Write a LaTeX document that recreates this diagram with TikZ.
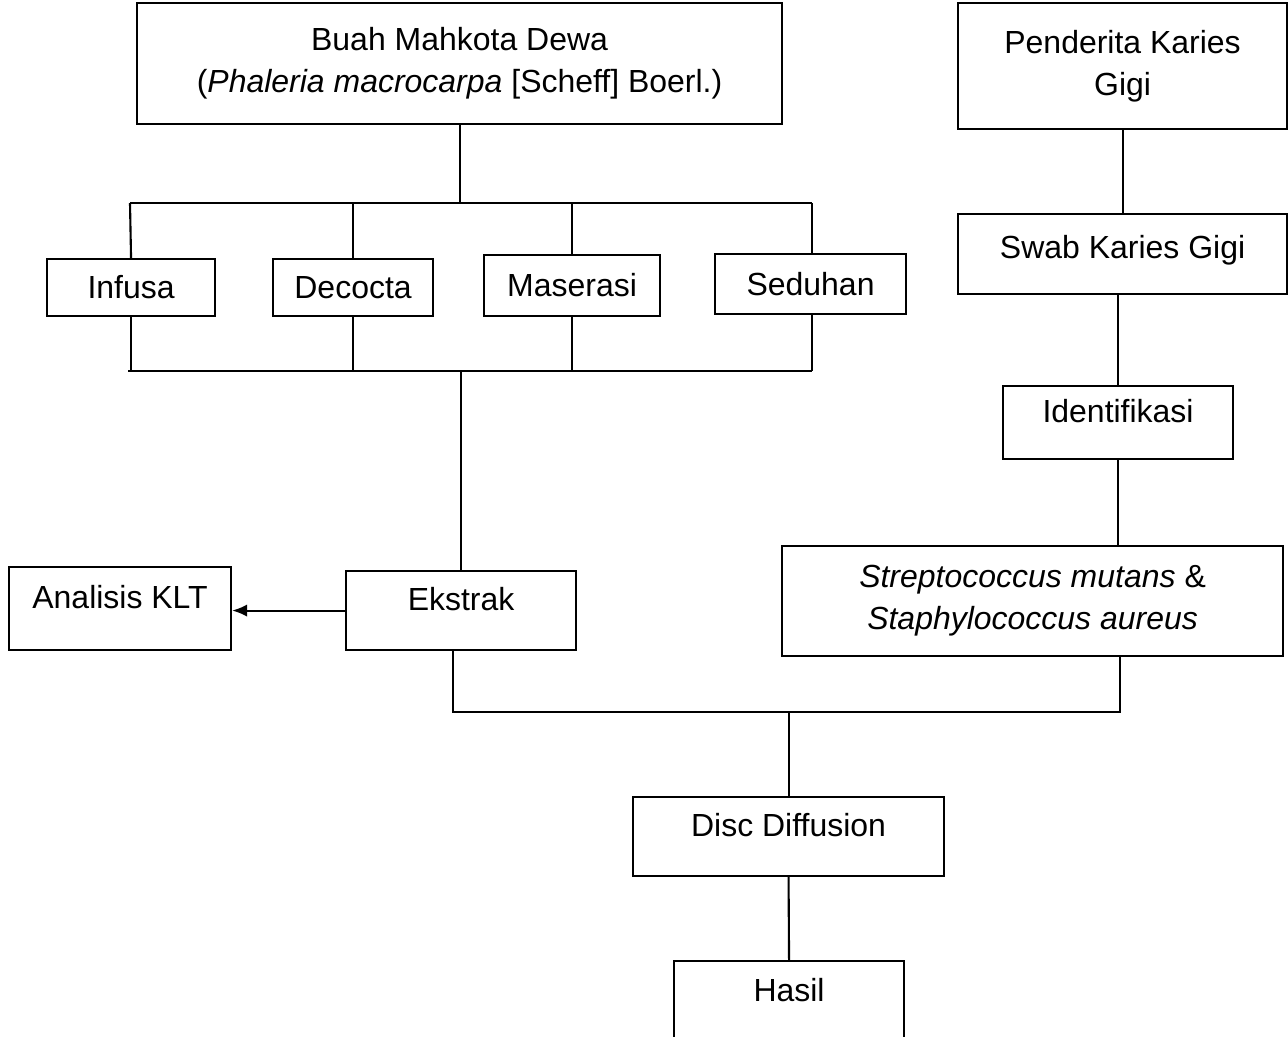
\documentclass[tikz,border=0pt]{standalone}
\usepackage{fontspec}
\setmainfont{Liberation Sans}
\usetikzlibrary{arrows.meta}
\begin{document}
\begin{tikzpicture}[
    x=0.02cm, y=-0.02cm,
    line width=1.2pt,
    every node/.style={
        font=\fontsize{18.2pt}{23.9pt}\selectfont
    },
    box/.style 2 args={
        draw,
        anchor=north west,
        inner sep=0pt,
        align=center,
        minimum width=#1*0.02cm,
        minimum height=#2*0.02cm
    },
    raised/.style={
        text height=13pt,
        text depth=13pt
    }
    ]
    \useasboundingbox (0,0) rectangle (1288,1037);
    \clip (0,0) rectangle (1288,1037);
    \node[box={645}{121}] at (136,2)
        (buah) {Buah Mahkota Dewa\\(\textit{Phaleria macrocarpa} [Scheff] Boerl.)};
    \node[box={329}{126}] at (957,2)
        (penderita) {Penderita Karies\\Gigi};
    \node[box={168}{57}] at (46,258)
        (infusa) {Infusa};
    \node[box={160}{57}] at (272,258)
        (decocta) {Decocta};
    \node[box={176}{61}] at (483,254)
        (maserasi) {Maserasi};
    \node[box={191}{60}] at (714,253)
        (seduhan) {Seduhan};
    \node[box={329}{80},text height=13pt,text depth=8pt] at (957,213)
        (swab) {Swab Karies Gigi};
    \node[box={230}{73},raised] at (1002,385)
        (identifikasi) {Identifikasi};
    \node[box={501}{110}] at (781,545)
        (strep) {\textit{Streptococcus mutans} \&\\\textit{Staphylococcus aureus}};
    \node[box={230}{79},raised] at (345,570)
        (ekstrak) {Ekstrak};
    \node[box={222}{83},raised] at (8,566)
        (analisis) {Analisis KLT};
    \node[box={311}{79},raised] at (632,796)
        (disc) {Disc Diffusion};
    \node[box={230}{80},raised] at (673,960)
        (hasil) {Hasil};
    \coordinate (bus1l) at (130,203);
    \coordinate (bus1r) at (812,203);
    \coordinate (bus2l) at (128,371);
    \coordinate (bus2r) at (812,371);
    \coordinate (bus3l) at (453,712);
    \coordinate (bus3r) at (1120,712);
    \draw (buah.south) -- (buah.south |- bus1l);
    \draw (bus1l) -- (bus1r);
    \draw (bus1l) -- (infusa.north);
    \draw (decocta.north) -- (decocta.north |- bus1l);
    \draw (maserasi.north) -- (maserasi.north |- bus1l);
    \draw (bus1r) -- (bus1r |- seduhan.north);
    \draw (infusa.south) -- (infusa.south |- bus2l);
    \draw (decocta.south) -- (decocta.south |- bus2l);
    \draw (maserasi.south) -- (maserasi.south |- bus2l);
    \draw (bus2r) -- (bus2r |- seduhan.south);
    \draw (bus2l) -- (bus2r);
    \draw (ekstrak.north) -- (ekstrak.north |- bus2l);
    \draw[-{Latex[length=8.5pt,width=7pt]}] (ekstrak.west) -- (ekstrak.west -| analisis.east);
    \draw (bus3l |- ekstrak.south) -- (bus3l) -- (bus3r) -- (bus3r |- strep.south);
    \draw (disc.north) -- (disc.north |- bus3l);
    \draw (disc.south) -- (hasil.north);
    \draw (penderita.south) -- (swab.north);
    \draw (identifikasi.north) -- (identifikasi.north |- swab.south);
    \draw (identifikasi.south) -- (identifikasi.south |- strep.north);
\end{tikzpicture}
\end{document}
